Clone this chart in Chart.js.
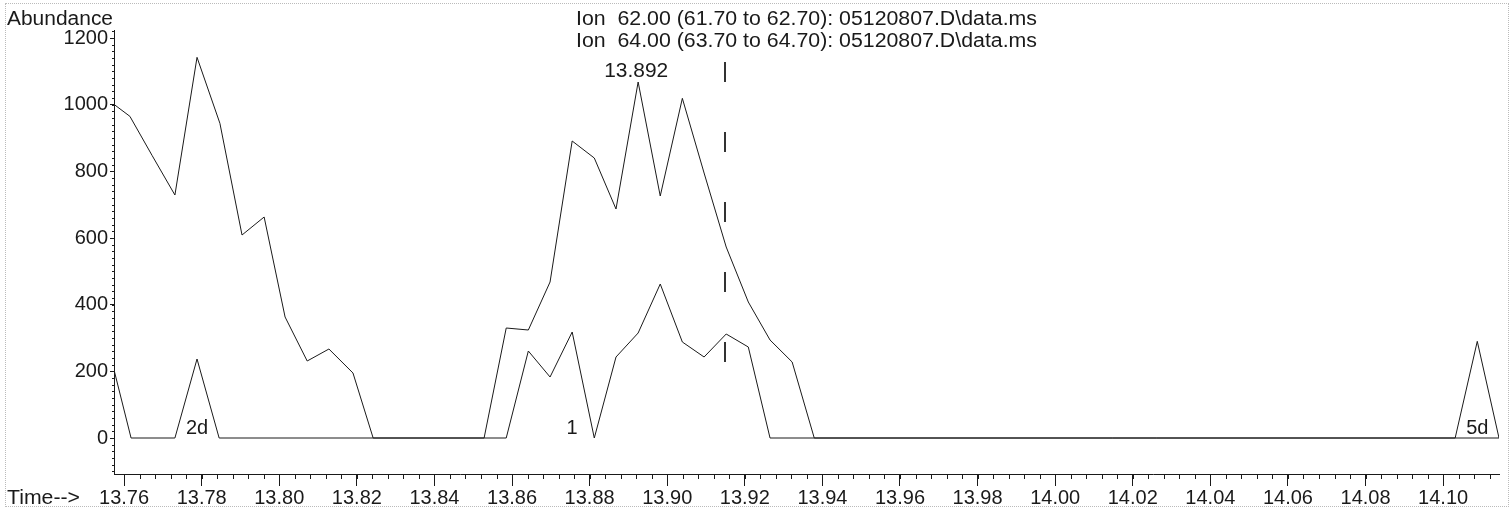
<!DOCTYPE html>
<html>
<head>
<meta charset="utf-8">
<script src="https://cdn.jsdelivr.net/npm/chart.js@4"></script>
<style>
  body { margin: 0; background: #fff; }
  #wrap { position: relative; width: 1512px; height: 508px; }
  #frame { position: absolute; left: 5px; top: 3px; width: 1502px; height: 502px; border: 1px dotted #bbb; pointer-events: none; }
</style>
</head>
<body>
<div id="wrap">
  <canvas id="tic" width="1512" height="508"></canvas>
  <div id="frame"></div>
</div>
<script>
// ion 62 trace (time in min, abundance)
const times62 = [13.7575, 13.7615, 13.7672, 13.7731, 13.7788, 13.7847, 13.7904, 13.7961, 13.8015, 13.8072, 13.8128, 13.8190, 13.8242,
  13.8528, 13.8585, 13.8642, 13.8698, 13.8755, 13.8812, 13.8868, 13.8925, 13.8982, 13.9039, 13.9095, 13.9152, 13.9209, 13.9265, 13.9322, 13.9379,
  14.1144];
const abund62 = [1000, 965, 848, 729, 1142, 944, 609, 663, 363, 231, 267, 195, 0,
  0, 330, 324, 468, 891, 840, 687, 1068, 726, 1019, 795, 573, 408, 294, 228, 0,
  0];

// ion 64 trace
const times64 = [13.7575, 13.7618, 13.7731, 13.7788, 13.7845,
  13.8585, 13.8642, 13.8698, 13.8755, 13.8812, 13.8868, 13.8925, 13.8982, 13.9039, 13.9095, 13.9152, 13.9209, 13.9265,
  14.1031, 14.1088, 14.1144];
const abund64 = [200, 0, 0, 237, 0,
  0, 261, 183, 318, 0, 243, 315, 462, 288, 243, 312, 273, 0,
  0, 290, 0];

const xTicks = [13.76, 13.78, 13.80, 13.82, 13.84, 13.86, 13.88, 13.90, 13.92, 13.94, 13.96, 13.98, 14.00, 14.02, 14.04, 14.06, 14.08, 14.10];
const yTicks = [0, 200, 400, 600, 800, 1000, 1200];

const peakNames = ["2d", "1", "5d"];
const peakTimes = [13.7788, 13.8755, 14.1088];
const apexTime = 13.892;
const apexAbund = 1068;
const markerTime = 13.915;

const titleLines = [
  "Ion  62.00 (61.70 to 62.70): 05120807.D\\data.ms",
  "Ion  64.00 (63.70 to 64.70): 05120807.D\\data.ms"
];

const FONT = "'Liberation Sans', Arial, Helvetica, sans-serif";
const INK = "#1a1a1a";

function toPoints(xs, ys) {
  return xs.map((t, i) => ({ x: t, y: ys[i] }));
}

function drawText(ctx, str, x, y, size, align, width) {
  ctx.save();
  ctx.font = size + "px " + FONT;
  ctx.fillStyle = INK;
  ctx.textBaseline = "alphabetic";
  const w = ctx.measureText(str).width;
  const sx = width ? width / w : 1;
  let left = x;
  if (align === "center") left = x - (w * sx) / 2;
  ctx.translate(left, y);
  ctx.scale(sx, 1);
  ctx.textAlign = "left";
  ctx.fillText(str, 0, 0);
  ctx.restore();
}

const extras = {
  id: "extras",
  afterDraw(chart) {
    const { ctx } = chart;
    const x = chart.scales.x, y = chart.scales.y;
    ctx.save();
    ctx.strokeStyle = INK;
    ctx.lineWidth = 1;
    ctx.beginPath();
    // minor ticks on time axis
    for (let k = 0; k <= 88; k++) {
      const v = 13.76 + k * 0.004;
      if (v > x.max) break;
      const px = Math.round(x.getPixelForValue(v)) + 0.5;
      ctx.moveTo(px, y.bottom);
      ctx.lineTo(px, y.bottom + 5);
    }
    // minor ticks on abundance axis
    for (let k = -5; k <= 61; k++) {
      const v = k * 20;
      if (v > y.max) break;
      const py = Math.round(y.getPixelForValue(v)) + 0.5;
      ctx.moveTo(x.left - 2, py);
      ctx.lineTo(x.left, py);
    }
    ctx.stroke();

    // retention time marker
    const mx = Math.round(x.getPixelForValue(markerTime));
    ctx.strokeStyle = "#333";
    ctx.lineWidth = 2;
    ctx.setLineDash([20, 50]);
    ctx.beginPath();
    ctx.moveTo(mx, y.getPixelForValue(1128));
    ctx.lineTo(mx, y.getPixelForValue(218));
    ctx.stroke();
    ctx.restore();

    // text
    drawText(ctx, "Abundance", 7, 25, 20, "left", 106);
    drawText(ctx, "Time-->", 7, 504, 20, "left", 73);
    drawText(ctx, titleLines[0], 576, 25, 20, "left", 461);
    drawText(ctx, titleLines[1], 576, 47, 20, "left", 461);
    const base = y.getPixelForValue(0);
    peakNames.forEach((n, i) => {
      drawText(ctx, n, x.getPixelForValue(peakTimes[i]), base - 4, 20, "center");
    });
    drawText(ctx, apexTime.toFixed(3), x.getPixelForValue(apexTime), y.getPixelForValue(apexAbund) - 5, 20, "center", 64);
  }
};

new Chart(document.getElementById("tic"), {
  type: "line",
  data: {
    datasets: [
      {
        label: "Ion 62.00",
        data: toPoints(times62, abund62),
        borderColor: INK,
        borderWidth: 1,
        pointRadius: 0,
        tension: 0,
        fill: false,
      },
      {
        label: "Ion 64.00",
        data: toPoints(times64, abund64),
        borderColor: INK,
        borderWidth: 1,
        pointRadius: 0,
        tension: 0,
        fill: false,
      },
    ],
  },
  options: {
    responsive: false,
    devicePixelRatio: 1,
    animation: false,
    events: [],
    layout: { padding: { top: 30, right: 13, left: 0, bottom: 0 } },
    plugins: { legend: { display: false }, tooltip: { enabled: false } },
    scales: {
      x: {
        type: "linear",
        min: 13.7574,
        max: 14.1144,
        afterBuildTicks: (s) => { s.ticks = xTicks.map((v) => ({ value: v })); },
        afterFit: (s) => { s.height = 34; },
        ticks: {
          autoSkip: false,
          maxRotation: 0,
          padding: 0,
          color: INK,
          font: { family: FONT, size: 20 },
          callback: (v) => Number(v).toFixed(2),
        },
        grid: { display: true, drawOnChartArea: false, drawTicks: true, tickLength: 12, color: INK },
        border: { display: true, color: INK, width: 1 },
      },
      y: {
        type: "linear",
        min: -108,
        max: 1224,
        afterBuildTicks: (s) => { s.ticks = yTicks.map((v) => ({ value: v })); },
        afterFit: (s) => { s.width = 114; },
        ticks: {
          padding: 2,
          color: INK,
          font: { family: FONT, size: 20 },
          callback: (v) => String(v),
        },
        grid: { display: true, drawOnChartArea: false, drawTicks: true, tickLength: 4, color: INK },
        border: { display: true, color: INK, width: 1 },
      },
    },
  },
  plugins: [extras],
});
</script>
</body>
</html>
